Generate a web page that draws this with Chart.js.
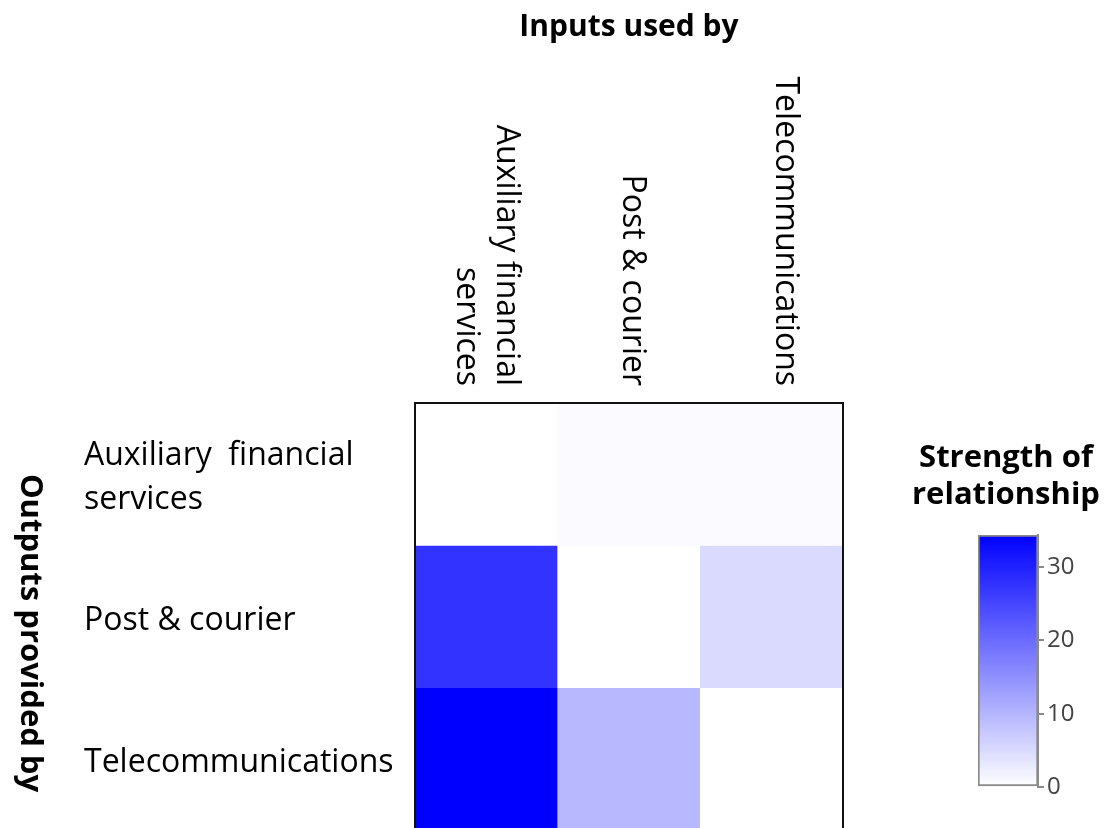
<!DOCTYPE html>
<html><head><meta charset="utf-8">
<script src="https://cdn.jsdelivr.net/npm/chart.js@4.4.1/dist/chart.umd.min.js"></script>
<style>
html,body{margin:0;padding:0;background:#fff;overflow:hidden;width:1109px;height:828px;}
#main{position:absolute;left:0;top:0;width:1109px;height:834px;}
#cb{position:absolute;left:940px;top:515px;width:160px;height:290px;}
</style></head><body>
<div id="main"><canvas id="c1"></canvas></div>
<div id="cb"><canvas id="c2"></canvas></div>
<script>
// ---- data ----
const columnLabels = [["Auxiliary financial", "services"], ["Post & courier"], ["Telecommunications"]];
const rowLabels = [["Auxiliary  financial", "services"], ["Post & courier"], ["Telecommunications"]];
const rowAuxiliary = [0, 0.5, 0.5];
const rowPost = [27.5, 0, 5.0];
const rowTelecom = [34.4, 9.6, 0];
const scaleMax = 34.4;
const colorbarTicks = [0, 10, 20, 30];
const xTitle = "Inputs used by";
const yTitle = "Outputs provided by";
const legendTitle = ["Strength of", "relationship"];

const rows = [rowAuxiliary, rowPost, rowTelecom];
function colorFor(v) {
  const t = Math.max(0, Math.min(1, v / scaleMax));
  const c = Math.round(255 * (1 - t));
  return `rgb(${c},${c},255)`;
}

const labelFont = '"Open Sans", sans-serif';
const boldFont = '"Open Sans", sans-serif';

const textPlugin = {
  id: 'texts',
  afterDraw(chart) {
    const ctx = chart.ctx;
    const xs = chart.scales.x, ys = chart.scales.y, area = chart.chartArea;
    ctx.save();
    ctx.fillStyle = '#000';
    // border
    ctx.strokeStyle = '#111';
    ctx.lineWidth = 2;
    ctx.strokeRect(area.left, area.top, area.right - area.left, area.bottom - area.top);
    // column labels (rotated clockwise)
    ctx.font = '32px ' + labelFont;
    const colOffsets = [0, 3, 13];
    const lh = 40;
    columnLabels.forEach((lines, i) => {
      const cx = xs.getPixelForValue(i) + colOffsets[i];
      ctx.save();
      ctx.translate(cx, area.top - 17);
      ctx.rotate(Math.PI / 2);
      ctx.textAlign = 'right';
      ctx.textBaseline = 'middle';
      lines.forEach((ln, j) => ctx.fillText(ln, 0, (j - (lines.length - 1) / 2) * lh));
      ctx.restore();
    });
    // row labels
    ctx.font = '32px ' + labelFont;
    ctx.textAlign = 'left';
    ctx.textBaseline = 'middle';
    rowLabels.forEach((lines, r) => {
      const cy = ys.getPixelForValue(r + 0.5);
      lines.forEach((ln, j) => ctx.fillText(ln, 84, cy + (j - (lines.length - 1) / 2) * 44 + 4));
    });
    // titles
    ctx.font = 'bold 30px ' + boldFont;
    ctx.textAlign = 'center';
    ctx.textBaseline = 'alphabetic';
    ctx.fillText(xTitle, (area.left + area.right) / 2, 36);
    ctx.font = 'bold 31px ' + boldFont;
    ctx.save();
    ctx.translate(21, 633);
    ctx.rotate(Math.PI / 2);
    ctx.fillText(yTitle, 0, 0);
    ctx.restore();
    ctx.font = 'bold 31px ' + boldFont;
    legendTitle.forEach((ln, j) => ctx.fillText(ln, 1006, 467 + j * 37));
    ctx.restore();
  }
};

new Chart(document.getElementById('c1'), {
  type: 'bar',
  data: {
    labels: columnLabels.map(l => l.join(' ')),
    datasets: rows.map((vals, r) => ({
      label: rowLabels[r].join(' '),
      data: vals.map(() => [r, r + 1]),
      backgroundColor: vals.map(colorFor),
      stack: 'grid',
      categoryPercentage: 1,
      barPercentage: 1,
      borderWidth: 0
    }))
  },
  options: {
    responsive: true,
    maintainAspectRatio: false,
    animation: false,
    layout: { padding: { left: 415, right: 266, top: 403, bottom: 4 } },
    plugins: { legend: { display: false }, tooltip: { enabled: false } },
    scales: {
      x: { type: 'category', stacked: true, display: false },
      y: { type: 'linear', min: 0, max: 3, reverse: true, stacked: false, display: false }
    }
  },
  plugins: [textPlugin]
});

new Chart(document.getElementById('c2'), {
  type: 'bar',
  data: {
    labels: [''],
    datasets: [{
      data: [[0, scaleMax]],
      backgroundColor: (c) => {
        const a = c.chart.chartArea;
        if (!a) return '#8888ff';
        const g = c.chart.ctx.createLinearGradient(0, a.bottom, 0, a.top);
        g.addColorStop(0, '#ffffff');
        g.addColorStop(1, '#0000ff');
        return g;
      },
      borderColor: '#8a8a8a',
      borderWidth: 2,
      borderSkipped: false,
      categoryPercentage: 1,
      barPercentage: 1
    }]
  },
  options: {
    responsive: true,
    maintainAspectRatio: false,
    animation: false,
    layout: { padding: { left: 38, right: 2, top: 20, bottom: 18 } },
    plugins: { legend: { display: false }, tooltip: { enabled: false } },
    scales: {
      x: { display: false },
      y: {
        position: 'right',
        min: 0, max: scaleMax,
        afterBuildTicks: (s) => { s.ticks = colorbarTicks.map(v => ({ value: v })); },
        afterFit: (s) => { s.width = 60; },
        ticks: { color: '#444', font: { family: '"Open Sans", sans-serif', size: 24 }, padding: 3 },
        grid: { drawOnChartArea: false, drawTicks: true, tickLength: 6, color: '#8a8a8a', lineWidth: 2 },
        border: { display: true, color: '#8a8a8a', width: 2 }
      }
    }
  }
});
</script>
</body></html>
